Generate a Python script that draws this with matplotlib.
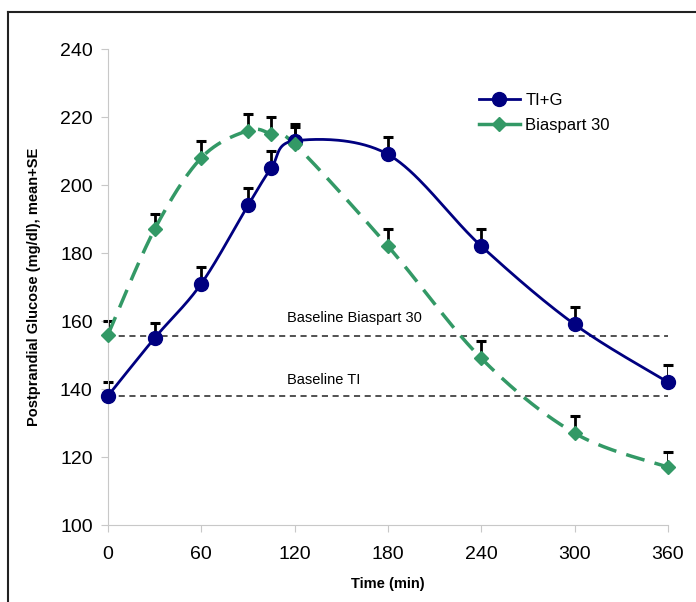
"""Postprandial glucose over time for TI+G vs Biaspart 30, with baselines."""

import numpy as np
import matplotlib
matplotlib.use('Agg')
from matplotlib import pyplot as plt
from matplotlib.lines import Line2D

plt.rcParams['font.family'] = ['Liberation Sans', 'DejaVu Sans']

time_min = [0, 30, 60, 90, 105, 120, 180, 240, 300, 360]
ti_g = [138, 155, 171, 194, 205, 213, 209, 182, 159, 142]
ti_g_se = [4, 4.5, 5, 5, 5, 5, 5, 5, 5, 5]
biaspart = [156, 187, 208, 216, 215, 212, 182, 149, 127, 117]
biaspart_se = [4, 4.5, 5, 5, 5, 5, 5, 5, 5, 4.6]
baseline_biaspart = 155.5
baseline_ti = 138

x_ticks = [0, 60, 120, 180, 240, 300, 360]
y_ticks = [100, 120, 140, 160, 180, 200, 220, 240]

BLUE = '#000080'
GREEN = '#339966'


def smooth(xs, ys, n=40):
    "Excel-style smoothed line: Bezier segments with Catmull-Rom control points"
    p = np.column_stack([xs, ys]).astype(float)
    ext = np.vstack([p[0], p, p[-1]])
    out = []
    t = np.linspace(0, 1, n)[:, None]
    for i in range(len(p) - 1):
        p0, p3 = ext[i + 1], ext[i + 2]
        c1 = p0 + (ext[i + 2] - ext[i]) / 6
        c2 = p3 - (ext[i + 3] - ext[i + 1]) / 6
        seg = ((1 - t) ** 3) * p0 + 3 * ((1 - t) ** 2) * t * c1 + 3 * (1 - t) * t ** 2 * c2 + t ** 3 * p3
        out.append(seg)
    curve = np.vstack(out)
    return curve[:, 0], curve[:, 1]


fig = plt.figure(figsize=(6.96, 6.02), dpi=100)
ax = fig.add_axes([108 / 696, 1 - 525 / 602, 560 / 696, 476 / 602])

# baselines
ax.plot([0, 360], [baseline_biaspart] * 2, color='#222222', lw=1.1, ls=(0, (4, 3)), zorder=1)
ax.plot([0, 360], [baseline_ti] * 2, color='#222222', lw=1.1, ls=(0, (4, 3)), zorder=1)
ax.text(115, 160.8, 'Baseline Biaspart 30', fontsize=10.5, va='center', ha='left')
ax.text(115, 142.7, 'Baseline TI', fontsize=10.5, va='center', ha='left')

# upper error bars only
ax.errorbar(time_min, ti_g, yerr=[np.zeros(len(ti_g)), ti_g_se], fmt='none',
            ecolor='black', elinewidth=2, capsize=3.5, capthick=2.2, zorder=2)
ax.errorbar(time_min, biaspart, yerr=[np.zeros(len(biaspart)), biaspart_se], fmt='none',
            ecolor='black', elinewidth=2, capsize=3.5, capthick=2.2, zorder=2)

sx, sy = smooth(time_min, ti_g)
ax.plot(sx, sy, color=BLUE, lw=2, zorder=3)
ax.plot(time_min, ti_g, ls='none', marker='o', ms=10, color=BLUE, zorder=4)

sx, sy = smooth(time_min, biaspart)
ax.plot(sx, sy, color=GREEN, lw=2.5, ls=(0, (5.5, 3)), zorder=3)
ax.plot(time_min, biaspart, ls='none', marker='D', ms=7.5, color=GREEN, zorder=4)

ax.set_xlim(0, 360)
ax.set_ylim(100, 240)
ax.set_xticks(x_ticks)
ax.set_yticks(y_ticks)
ax.tick_params(axis='both', labelsize=14, direction='out', length=5, color='#c8c8c8')
ax.tick_params(axis='x', pad=10)
ax.tick_params(axis='y', pad=6)
for side in ['top', 'right']:
    ax.spines[side].set_visible(False)
for side in ['left', 'bottom']:
    ax.spines[side].set_color('#c8c8c8')
for art in ax.lines:
    art.set_clip_on(False)

ax.set_xlabel('Time (min)', fontsize=10.5, fontweight='bold', labelpad=10)
ax.set_ylabel('Postprandial Glucose (mg/dl), mean+SE', fontsize=10.5, fontweight='bold', labelpad=14)

handles = [
    Line2D([], [], color=BLUE, lw=2, marker='o', ms=10),
    Line2D([], [], color=GREEN, lw=2.5, marker='D', ms=7.5),
]
ax.legend(handles, ['TI+G', 'Biaspart 30'], loc='upper left', bbox_to_anchor=(0.635, 0.94),
          frameon=False, fontsize=12, handlelength=2.5, handletextpad=0.3, labelspacing=0.6)

# figure frame lines (left and top only)
fig.add_artist(Line2D([8 / 696, 8 / 696], [0, 1 - 12 / 602], color='#222222', lw=1.5))
fig.add_artist(Line2D([8 / 696, 1], [1 - 12 / 602, 1 - 12 / 602], color='#222222', lw=1.5))

fig.savefig('out.png', dpi=100)
